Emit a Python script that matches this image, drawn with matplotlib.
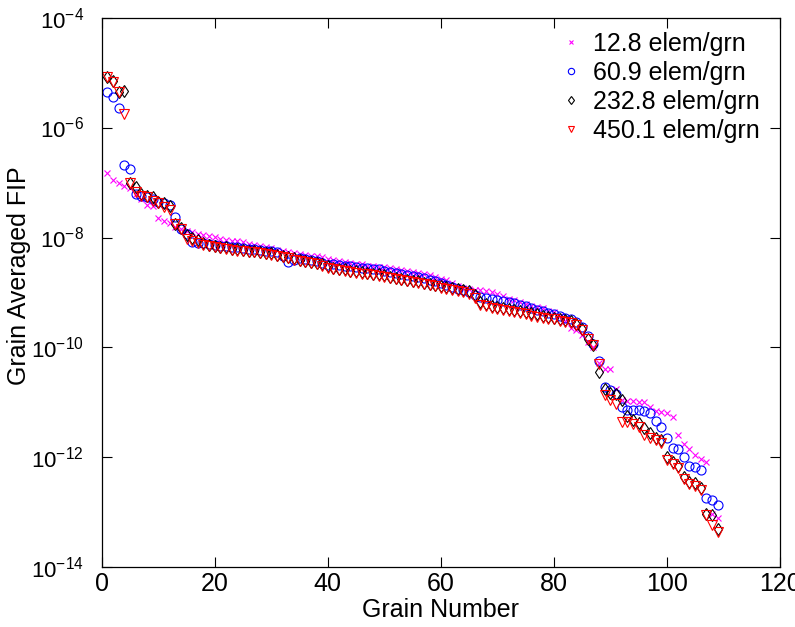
import numpy as np
import matplotlib
matplotlib.use("Agg")
import matplotlib.pyplot as plt
from matplotlib.ticker import LogLocator, LogFormatterMathtext, NullLocator

plt.rcParams['font.family'] = ['Liberation Sans', 'DejaVu Sans']
plt.rcParams['mathtext.fontset'] = 'custom'
plt.rcParams['mathtext.rm'] = 'Liberation Sans'
plt.rcParams['mathtext.default'] = 'regular'

labels = ["12.8 elem/grn", "60.9 elem/grn", "232.8 elem/grn", "450.1 elem/grn"]

# log10 of grain averaged FIP, grains 1..109
log_fip_12_8 = [
    -6.82, -6.95, -7.00, -7.06, -7.10, -7.20, -7.30, -7.40, -7.43, -7.65,
    -7.70, -7.74, -7.80, -7.84, -7.88, -7.90, -7.93, -7.95, -7.97, -7.99,
    -8.02, -8.04, -8.06, -8.07, -8.09, -8.11, -8.13, -8.15, -8.17, -8.19,
    -8.22, -8.25, -8.27, -8.28, -8.30, -8.31, -8.33, -8.34, -8.36, -8.39,
    -8.41, -8.43, -8.45, -8.46, -8.48, -8.49, -8.51, -8.52, -8.53, -8.54,
    -8.55, -8.57, -8.59, -8.60, -8.62, -8.64, -8.66, -8.69, -8.72, -8.75,
    -8.78, -8.83, -8.88, -8.91, -8.93, -8.95, -8.96, -8.98, -9.00, -9.03,
    -9.07, -9.11, -9.14, -9.18, -9.21, -9.24, -9.26, -9.29, -9.33, -9.36,
    -9.42, -9.52, -9.64, -9.69, -9.78, -9.90, -10.00, -10.29, -10.40, -10.40,
    -10.76, -10.95, -10.97, -10.98, -10.99, -11.00, -11.09, -11.16, -11.18, -11.20,
    -11.27, -11.60, -11.76, -11.84, -11.95, -12.02, -12.09, -13.02, -13.10,
]
log_fip_60_9 = [
    -5.36, -5.44, -5.65, -6.69, -6.75, -7.20, -7.24, -7.27, -7.30, -7.36,
    -7.38, -7.40, -7.62, -7.84, -7.93, -8.08, -8.10, -8.10, -8.12, -8.13,
    -8.15, -8.16, -8.17, -8.18, -8.19, -8.20, -8.21, -8.22, -8.24, -8.25,
    -8.27, -8.33, -8.45, -8.40, -8.38, -8.39, -8.41, -8.43, -8.46, -8.50,
    -8.48, -8.50, -8.51, -8.52, -8.53, -8.55, -8.56, -8.57, -8.58, -8.60,
    -8.62, -8.64, -8.66, -8.68, -8.70, -8.72, -8.74, -8.77, -8.80, -8.83,
    -8.86, -8.90, -8.93, -8.96, -8.99, -9.04, -9.08, -9.10, -9.12, -9.14,
    -9.16, -9.18, -9.20, -9.22, -9.25, -9.28, -9.31, -9.34, -9.37, -9.40,
    -9.43, -9.46, -9.49, -9.54, -9.62, -9.80, -9.93, -10.24, -10.71, -10.78,
    -10.85, -11.09, -11.13, -11.13, -11.14, -11.16, -11.20, -11.33, -11.45, -11.65,
    -11.82, -11.84, -12.00, -12.16, -12.18, -12.22, -12.73, -12.78, -12.87,
]
log_fip_232_8 = [
    -5.09, -5.15, -5.36, -5.33, -7.00, -7.09, -7.20, -7.24, -7.27, -7.35,
    -7.38, -7.42, -7.75, -7.82, -7.96, -8.00, -8.05, -8.10, -8.13, -8.15,
    -8.17, -8.18, -8.20, -8.21, -8.22, -8.24, -8.25, -8.26, -8.28, -8.29,
    -8.31, -8.33, -8.35, -8.38, -8.40, -8.42, -8.44, -8.46, -8.49, -8.52,
    -8.55, -8.57, -8.58, -8.60, -8.61, -8.63, -8.64, -8.66, -8.67, -8.69,
    -8.71, -8.73, -8.75, -8.77, -8.79, -8.80, -8.82, -8.84, -8.86, -8.88,
    -8.90, -8.92, -8.94, -8.96, -8.98, -9.05, -9.18, -9.21, -9.24, -9.26,
    -9.28, -9.30, -9.32, -9.34, -9.36, -9.38, -9.40, -9.42, -9.44, -9.46,
    -9.48, -9.50, -9.52, -9.58, -9.67, -9.84, -9.95, -10.44, -10.76, -10.82,
    -10.85, -10.95, -11.24, -11.31, -11.38, -11.47, -11.56, -11.64, -11.68, -11.99,
    -12.09, -12.16, -12.36, -12.45, -12.47, -12.56, -13.02, -13.05, -13.31,
]
log_fip_450_1 = [
    -5.09, -5.18, -5.36, -5.75, -7.00, -7.18, -7.24, -7.27, -7.33, -7.38,
    -7.45, -7.50, -7.75, -7.84, -8.02, -8.06, -8.10, -8.14, -8.16, -8.18,
    -8.19, -8.21, -8.22, -8.24, -8.25, -8.26, -8.27, -8.29, -8.30, -8.32,
    -8.33, -8.36, -8.38, -8.40, -8.42, -8.45, -8.47, -8.49, -8.52, -8.56,
    -8.58, -8.59, -8.60, -8.62, -8.64, -8.66, -8.67, -8.68, -8.70, -8.72,
    -8.74, -8.76, -8.78, -8.80, -8.81, -8.83, -8.85, -8.87, -8.89, -8.91,
    -8.93, -8.96, -8.98, -9.00, -9.02, -9.10, -9.22, -9.25, -9.28, -9.30,
    -9.32, -9.34, -9.36, -9.38, -9.40, -9.42, -9.44, -9.46, -9.48, -9.49,
    -9.51, -9.53, -9.55, -9.60, -9.68, -9.85, -9.96, -10.30, -10.87, -10.96,
    -11.02, -11.35, -11.36, -11.40, -11.45, -11.60, -11.64, -11.69, -11.73, -12.04,
    -12.11, -12.20, -12.40, -12.49, -12.51, -12.60, -13.05, -13.22, -13.36,
]

series = [log_fip_12_8, log_fip_60_9, log_fip_232_8, log_fip_450_1]
markers = ['x', 'o', 'd', 'v']
colors = ['#ff00ff', '#0000ff', '#000000', '#ff0000']
sizes = [5.0, 6.5, 6.5, 6.5]

fig = plt.figure(figsize=(7.95, 6.27), dpi=100)
ax = fig.add_axes([0.128, 0.095, 0.853, 0.877])

for vals, m, c, s, lab in zip(series, markers, colors, sizes, labels):
    g = np.arange(1, len(vals) + 1)
    y = 10.0 ** np.array(vals)
    if m == 'x':
        ax.plot(g, y, linestyle='none', marker=m, color=c, ms=s, mew=0.8, label=lab)
    else:
        ax.plot(g, y, linestyle='none', marker=m, mfc='none', mec=c, ms=s, mew=0.8, label=lab)

ax.set_yscale('log')
ax.set_xlim(0, 120)
ax.set_ylim(1e-14, 1e-4)
ax.set_xticks([0, 20, 40, 60, 80, 100, 120])
ax.yaxis.set_major_locator(LogLocator(base=100.0, numticks=10))
ax.yaxis.set_major_formatter(LogFormatterMathtext(base=10.0))
ax.yaxis.set_minor_locator(NullLocator())
ax.tick_params(which='major', direction='in', length=7, width=0.8,
               top=True, right=True)
ax.tick_params(axis='x', pad=3, labelsize=18)
ax.tick_params(axis='y', pad=13, labelsize=16)
for sp in ax.spines.values():
    sp.set_linewidth(0.9)

ax.set_xlabel("Grain Number", fontsize=18)
ax.set_ylabel("Grain Averaged FIP", fontsize=18)
ax.xaxis.set_label_coords(0.5, -0.055)
ax.yaxis.set_label_coords(-0.104, 0.53)

leg = ax.legend(loc='upper right', bbox_to_anchor=(0.985, 0.992), frameon=False,
                fontsize=18, handlelength=1.0, handletextpad=0.36,
                labelspacing=0.2, markerscale=0.7, borderaxespad=0.0)

fig.savefig("out.png", dpi=100)
